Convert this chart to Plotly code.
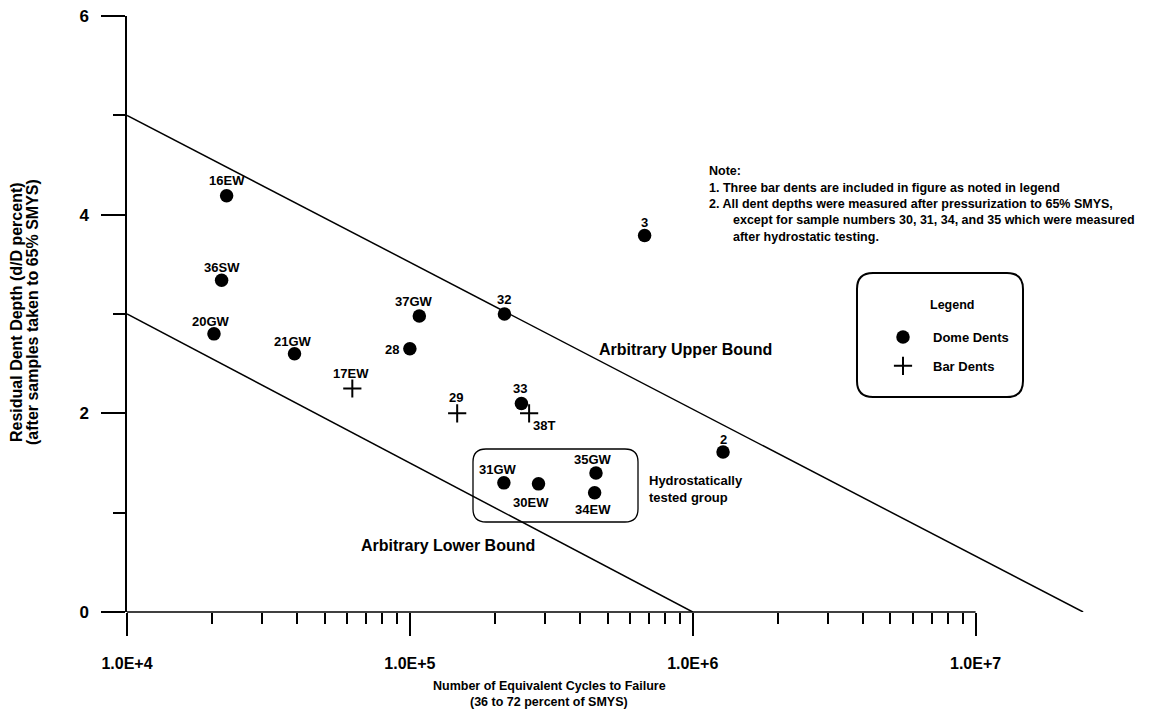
import numpy as np
import plotly.graph_objects as go

# ---------------- data ----------------
dome_labels = ["16EW", "36SW", "20GW", "21GW", "37GW", "28", "32", "33", "3", "2",
               "31GW", "30EW", "35GW", "34EW"]
dome_cycles = [2.25e4, 2.16e4, 2.03e4, 3.91e4, 1.08e5, 1.00e5, 2.16e5, 2.48e5, 6.76e5, 1.28e6,
               2.15e5, 2.85e5, 4.55e5, 4.50e5]
dome_depth = [4.19, 3.34, 2.80, 2.60, 2.98, 2.65, 3.00, 2.10, 3.79, 1.61,
              1.30, 1.29, 1.40, 1.20]

bar_labels = ["17EW", "29", "38T"]
bar_cycles = [6.26e4, 1.47e5, 2.64e5]
bar_depth = [2.25, 2.00, 2.00]

upper_cycles = [1e4, 2.4e7]
upper_depth = [5, 0]
lower_cycles = [1e4, 1e6]
lower_depth = [3, 0]

x_tick_vals = [1e4, 1e5, 1e6, 1e7]
x_tick_text = ["1.0E+4", "1.0E+5", "1.0E+6", "1.0E+7"]
x_minor_vals = [k * 10 ** d for d in (4, 5, 6) for k in range(2, 10)]
y_tick_vals = [0, 2, 4, 6]
y_minor_vals = [1, 3, 5]

note_lines = [
    "Note:",
    "1. Three bar dents are included in figure as noted in legend",
    "2. All dent depths were measured after pressurization to 65% SMYS,",
    "except for sample numbers 30, 31, 34, and 35 which were measured",
    "after hydrostatic testing.",
]

# ---------------- styling / geometry ----------------
W, H = 1175, 716
OFFX, OFFY = 8, 8            # page body margin
L, T = 127 - OFFX, 16 - OFFY
PW, PH = 990, 596
R = W - L - PW
B = H - T - PH
XMIN, XMAX = 4, 7.5
FONT = "Liberation Sans, Arial, sans-serif"


def X(px):
    return (px - OFFX - L) / PW


def Y(py):
    return (T + PH - (py - OFFY)) / PH


def rrect(x0, y0, x1, y1, r):
    pts = [
        ("M", [(x0 + r, y0)]),
        ("L", [(x1 - r, y0)]),
        ("Q", [(x1, y0), (x1, y0 + r)]),
        ("L", [(x1, y1 - r)]),
        ("Q", [(x1, y1), (x1 - r, y1)]),
        ("L", [(x0 + r, y1)]),
        ("Q", [(x0, y1), (x0, y1 - r)]),
        ("L", [(x0, y0 + r)]),
        ("Q", [(x0, y0), (x0 + r, y0)]),
    ]
    s = ""
    for cmd, ps in pts:
        s += cmd + " " + " ".join(f"{X(a):.5f},{Y(b):.5f}" for a, b in ps) + " "
    return s + "Z"


label_shift = {
    "16EW": (0, 15), "36SW": (0, 13), "20GW": (-3, 12), "21GW": (-2, 12),
    "37GW": (-5, 14), "28": (-18, -1), "32": (0, 15), "33": (-1, 15),
    "3": (0, 13), "2": (0, 13), "31GW": (-6, 13), "30EW": (-8, -19),
    "35GW": (-3, 13), "34EW": (-2, -17), "17EW": (-1, 15), "29": (-1, 16),
    "38T": (15, -12),
}

fig = go.Figure()

fig.add_trace(go.Scatter(x=upper_cycles, y=upper_depth, mode="lines",
                         line=dict(color="black", width=1.5), showlegend=False,
                         hoverinfo="skip"))
fig.add_trace(go.Scatter(x=lower_cycles, y=lower_depth, mode="lines",
                         line=dict(color="black", width=1.5), showlegend=False,
                         hoverinfo="skip"))
fig.add_trace(go.Scatter(x=dome_cycles, y=dome_depth, mode="markers", name="Dome Dents",
                         legendgroup="a",
                         marker=dict(symbol="circle", size=13.5, color="black")))
fig.add_trace(go.Scatter(x=bar_cycles, y=bar_depth, mode="markers", name="Bar Dents",
                         legendgroup="b",
                         marker=dict(symbol="cross-thin", size=13, color="black",
                                     line=dict(color="black", width=2))))

annotations = []
for lab, cx, cy in list(zip(dome_labels, dome_cycles, dome_depth)) + list(zip(bar_labels, bar_cycles, bar_depth)):
    dx, dy = label_shift[lab]
    annotations.append(dict(x=np.log10(cx), y=cy, xref="x", yref="y", text=lab,
                            showarrow=False, xshift=dx, yshift=dy,
                            font=dict(family=FONT, size=13, color="black", weight="bold")))

# note text
note_pos = [(707, 171), (707, 188), (707, 204), (731, 220), (731, 237)]
for txt, (px, py) in zip(note_lines, note_pos):
    annotations.append(dict(x=X(px), y=Y(py), xref="paper", yref="paper", text=txt,
                            showarrow=False, xanchor="left", yanchor="middle",
                            font=dict(family=FONT, size=12.5, color="black", weight="bold")))

# region labels
for txt, px, py in [("Arbitrary Upper Bound", 597, 349),
                    ("Arbitrary Lower Bound", 359, 545)]:
    annotations.append(dict(x=X(px), y=Y(py), xref="paper", yref="paper", text=txt,
                            showarrow=False, xanchor="left", yanchor="middle",
                            font=dict(family=FONT, size=16, color="black", weight="bold")))
for txt, py in [("Hydrostatically", 480), ("tested group", 497)]:
    annotations.append(dict(x=X(647), y=Y(py), xref="paper", yref="paper", text=txt,
                            showarrow=False, xanchor="left", yanchor="middle",
                            font=dict(family=FONT, size=13, color="black", weight="bold")))
annotations.append(dict(x=X(952), y=Y(305), xref="paper", yref="paper", text="Legend",
                        showarrow=False, xanchor="center", yanchor="middle",
                        font=dict(family=FONT, size=12.5, color="black", weight="bold")))

# axis titles
for txt, py in [("Number of Equivalent Cycles to Failure", 686),
                ("(36 to 72 percent of SMYS)", 702)]:
    annotations.append(dict(x=X(549), y=Y(py), xref="paper", yref="paper", text=txt,
                            showarrow=False, xanchor="center", yanchor="middle",
                            font=dict(family=FONT, size=12.5, color="black", weight="bold")))
for txt, px in [("Residual Dent Depth (d/D percent)", 17),
                ("(after samples taken to 65% SMYS)", 33)]:
    annotations.append(dict(x=X(px), y=Y(312), xref="paper", yref="paper", text=txt,
                            showarrow=False, textangle=-90, xanchor="center", yanchor="middle",
                            font=dict(family=FONT, size=16, color="black", weight="bold")))

shapes = [
    # x axis line from 1E+4 to 1E+7 only
    dict(type="line", xref="paper", yref="paper", x0=0, x1=(7 - XMIN) / (XMAX - XMIN),
         y0=0, y1=0, line=dict(color="black", width=1.5)),
    dict(type="path", xref="paper", yref="paper", path=rrect(473, 449, 638, 522, 13),
         line=dict(color="black", width=1.3)),
    dict(type="path", xref="paper", yref="paper", path=rrect(857, 273, 1023, 397, 16),
         line=dict(color="black", width=2)),
]

fig.update_layout(
    width=W, height=H,
    margin=dict(l=L, r=R, t=T, b=B, autoexpand=False),
    paper_bgcolor="white", plot_bgcolor="white",
    font=dict(family=FONT, color="black"),
    showlegend=True,
    legend=dict(x=X(873), y=Y(322), xanchor="left", yanchor="top",
                bgcolor="rgba(0,0,0,0)", borderwidth=0, itemwidth=50,
                traceorder="grouped", tracegroupgap=9,
                font=dict(family=FONT, size=13, color="black", weight="bold")),
    annotations=annotations,
    shapes=shapes,
    xaxis=dict(type="log", range=[XMIN, XMAX], automargin=False,
               showline=False, showgrid=False, zeroline=False,
               tickmode="array", tickvals=x_tick_vals, ticktext=x_tick_text,
               ticks="outside", ticklen=23, tickwidth=1.5, tickcolor="black",
               ticklabelstandoff=14, ticklabeloverflow="allow",
               tickfont=dict(family=FONT, size=16, color="black", weight="bold"),
               minor=dict(tickmode="array", tickvals=x_minor_vals, ticks="outside",
                          ticklen=11, tickwidth=1.5, tickcolor="black", showgrid=False)),
    yaxis=dict(range=[0, 6], automargin=False,
               showline=True, linecolor="black", linewidth=1.5,
               showgrid=False, zeroline=False,
               tickmode="array", tickvals=y_tick_vals,
               ticks="outside", ticklen=24, tickwidth=1.5, tickcolor="black",
               ticklabelstandoff=9, ticklabeloverflow="allow",
               tickfont=dict(family=FONT, size=17, color="black", weight="bold"),
               minor=dict(tickmode="array", tickvals=y_minor_vals, ticks="outside",
                          ticklen=12, tickwidth=1.5, tickcolor="black", showgrid=False)),
)

fig.write_html("out.html")
